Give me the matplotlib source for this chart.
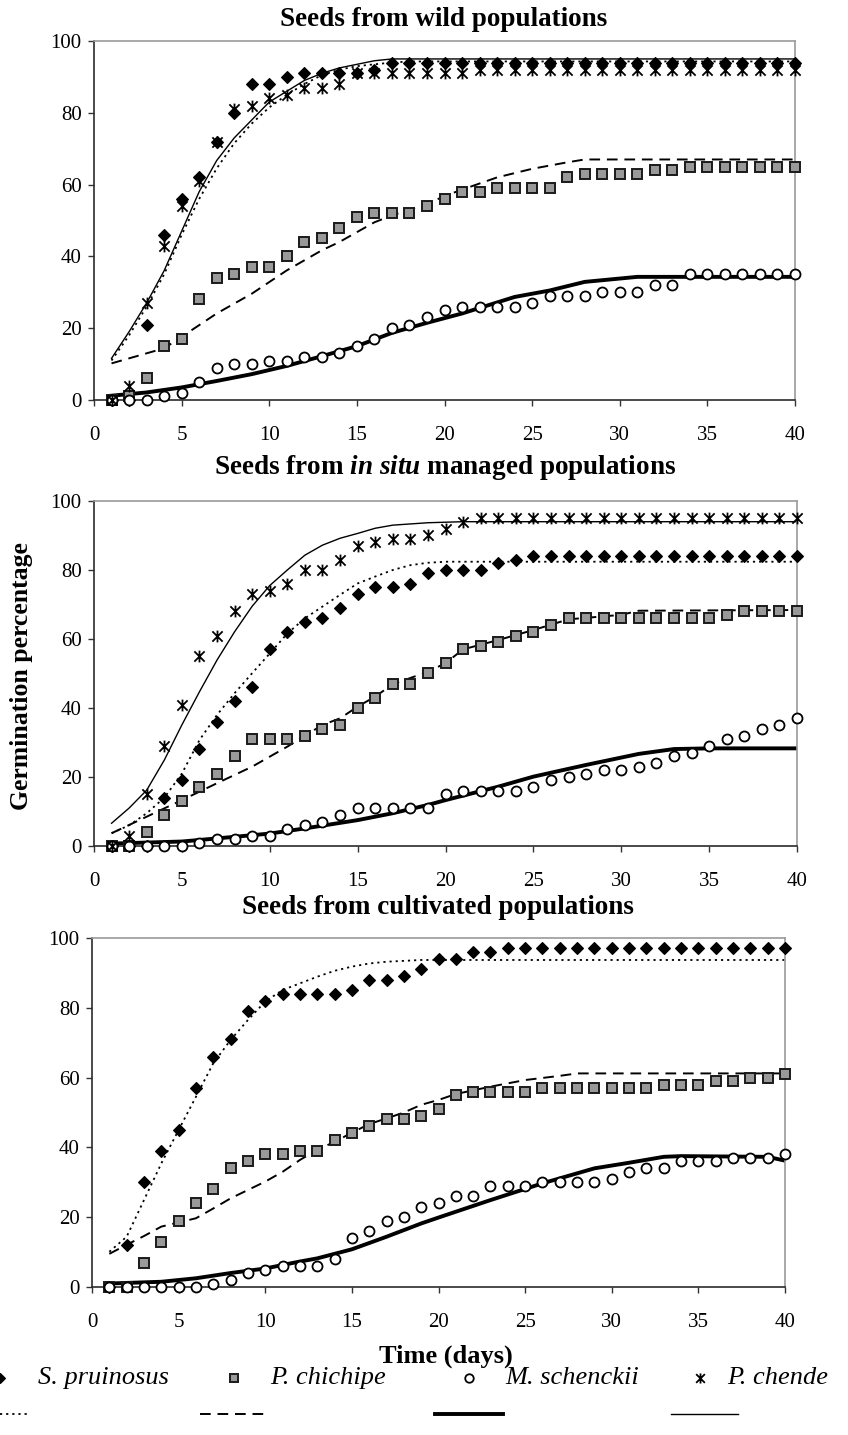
import matplotlib
matplotlib.use("Agg")
import matplotlib.pyplot as plt
from matplotlib.path import Path

plt.rcParams['font.family'] = ['Liberation Serif', 'DejaVu Serif']
plt.rcParams['mathtext.fontset'] = 'custom'
plt.rcParams['mathtext.rm'] = 'Liberation Serif:bold'
plt.rcParams['mathtext.bf'] = 'Liberation Serif:bold'
plt.rcParams['mathtext.it'] = 'Liberation Serif:italic:bold'

# ---------------- data ----------------
days = list(range(1, 41))
species = ["S. pruinosus", "P. chichipe", "M. schenckii", "P. chende"]
panel_titles = ["Seeds from wild populations",
                r"Seeds from $\mathit{in\ situ}$ managed populations",
                "Seeds from cultivated populations"]
x_ticks = [0, 5, 10, 15, 20, 25, 30, 35, 40]
y_ticks = [0, 20, 40, 60, 80, 100]

# wild populations: observed
wild_sp = [0, 0, 21, 46, 56, 62, 72, 80, 88, 88, 90, 91, 91, 91, 91, 92, 94] + [94] * 23
wild_pc = [0, 1, 6, 15, 17, 28, 34, 35, 37, 37, 40, 44, 45, 48, 51, 52, 52, 52, 54, 56,
           58, 58, 59, 59, 59, 59, 62, 63, 63, 63, 63, 64, 64] + [65] * 7
wild_ms = [0, 0, 0, 1, 2, 5, 9, 10, 10, 11, 11, 12, 12, 13, 15, 17, 20, 21, 23, 25,
           26, 26, 26, 26, 27, 29, 29, 29, 30, 30, 30, 32, 32] + [35] * 7
wild_pch = [0, 4, 27, 43, 54, 61, 72, 81, 82, 84, 85, 87, 87, 88, 91, 91, 91, 91, 91, 91, 91] + [92] * 19
# wild populations: fitted curves (vertex days / values)
wild_sp_fit_d = [1, 2, 3, 4, 5, 6, 7, 8, 9, 10, 11, 12, 13, 14, 15, 16, 17, 18, 40]
wild_sp_fit = [11, 18, 26, 35, 46, 56, 64.5, 71.5, 77, 81.5, 85, 88, 90.5, 92, 93, 93.5, 94, 94.3, 94.3]
wild_pc_fit_d = [1, 4, 5, 7, 9, 11, 13, 14, 16, 17, 19, 20, 21, 23, 25, 27, 28, 40]
wild_pc_fit = [10.2, 14.4, 17.6, 24.1, 29.6, 36.1, 41.7, 44, 49.5, 51.4, 54.6, 56.8, 58.6, 62, 64.4, 66.2, 67, 67]
wild_ms_fit_d = [1, 3, 5, 7, 9, 11, 13, 15, 17, 19, 21, 24, 26, 28, 31, 40]
wild_ms_fit = [1.2, 2.1, 3.5, 5.3, 7.2, 9.5, 12.2, 15, 18.7, 21.5, 24.1, 28.7, 30.5, 32.9, 34.3, 34.3]
wild_pch_fit_d = [1, 2, 3, 4, 5, 6, 7, 8, 9, 10, 11, 12, 13, 14, 15, 16, 17, 18, 40]
wild_pch_fit = [11.6, 19, 27, 36, 47, 58, 66.7, 73, 78, 83, 86, 89, 91, 92.5, 93.5, 94.5, 95, 95, 95]

# in situ managed populations: observed
insitu_sp = [0, 0, 0, 14, 19, 28, 36, 42, 46, 57, 62, 65, 66, 69, 73, 75, 75, 76, 79, 80,
             80, 80, 82, 83] + [84] * 16
insitu_pc = [0, 0, 4, 9, 13, 17, 21, 26, 31, 31, 31, 32, 34, 35, 40, 43, 47, 47, 50, 53,
             57, 58, 59, 61, 62, 64] + [66] * 9 + [67] + [68] * 4
insitu_ms = [0, 0, 0, 0, 0, 1, 2, 2, 3, 3, 5, 6, 7, 9, 11, 11, 11, 11, 11, 15,
             16, 16, 16, 16, 17, 19, 20, 21, 22, 22, 23, 24, 26, 27, 29, 31, 32, 34, 35, 37]
insitu_pch = [0, 3, 15, 29, 41, 55, 61, 68, 73, 74, 76, 80, 80, 83, 87, 88, 89, 89, 90, 92, 94] + [95] * 19
# in situ: fitted curves
insitu_sp_fit_d = [1, 2, 3, 4, 5, 6, 7, 8, 9, 10, 11, 12, 13, 14, 15, 16, 17, 18, 19, 20, 40]
insitu_sp_fit = [3.7, 6, 9.5, 14, 21, 30.7, 38, 44.3, 50.1, 55.8, 61.6, 66, 69.4, 72.8, 76.1, 78.1, 80, 81.4, 82.1, 82.4, 82.4]
insitu_pc_fit_d = [1, 3, 5, 7, 9, 11, 13, 14, 15, 16, 17, 19, 20, 21, 23, 25, 27, 30, 31, 40]
insitu_pc_fit = [3.7, 8.5, 13.3, 18.2, 23, 28.8, 35.1, 37, 40.4, 43.3, 46.9, 50.5, 53, 57, 59.7, 62.6, 65.7, 67, 68.2, 68.4]
insitu_ms_fit_d = [1, 5, 7, 10, 12, 15, 17, 19, 20, 23, 25, 28, 31, 33, 35, 40]
insitu_ms_fit = [0.7, 1.3, 2.2, 3.6, 5.1, 7.5, 9.5, 11.9, 13.3, 17.2, 20.1, 23.5, 26.7, 28.1, 28.3, 28.3]
insitu_pch_fit_d = [1, 2, 3, 4, 5, 6, 7, 8, 9, 10, 11, 12, 13, 14, 15, 16, 17, 19, 21, 40]
insitu_pch_fit = [6.6, 11, 16.2, 24.9, 35.1, 44.7, 53.9, 62.1, 69.5, 75.5, 80, 84.3, 87.2, 89.2, 90.6, 92.1, 93, 93.7, 94, 94]

# cultivated populations: observed
cult_sp = [0, 12, 30, 39, 45, 57, 66, 71, 79, 82, 84, 84, 84, 84, 85, 88, 88, 89, 91, 94,
           94, 96, 96] + [97] * 17
cult_pc = [0, 0, 7, 13, 19, 24, 28, 34, 36, 38, 38, 39, 39, 42, 44, 46, 48, 48, 49, 51,
           55, 56, 56, 56, 56] + [57] * 7 + [58] * 3 + [59, 59, 60, 60, 61]
cult_ms = [0, 0, 0, 0, 0, 0, 1, 2, 4, 5, 6, 6, 6, 8, 14, 16, 19, 20, 23, 24,
           26, 26, 29, 29, 29, 30, 30, 30, 30, 31, 33, 34, 34, 36, 36, 36, 37, 37, 37, 38]
# cultivated: fitted curves
cult_sp_fit_d = [1, 2, 3, 4, 5, 6, 7, 8, 9, 10, 11, 12, 13, 14, 15, 16, 17, 19, 40]
cult_sp_fit = [10.1, 14.4, 24.9, 35.4, 45, 54.5, 64.1, 70.8, 76.5, 81.8, 85.1, 87, 88.9, 90.6, 91.8, 92.7, 93.2, 93.7, 93.7]
cult_pc_fit_d = [1, 2, 3, 4, 6, 7, 8, 9, 10, 11, 12, 13, 14, 15, 16, 17, 18, 19, 20, 21, 23, 25, 27, 28, 40]
cult_pc_fit = [9.5, 12.1, 14.6, 17.3, 19.7, 22.5, 25.4, 27.8, 30.2, 33, 36.4, 39.3, 41.6, 44.2, 46.7, 48.3, 50,
               52.2, 53.6, 55.3, 57.4, 59.3, 60.5, 61.2, 61.2]
cult_ms_fit_d = [1, 4, 6, 8, 10, 12, 13, 15, 17, 19, 20, 23, 26, 29, 31, 33, 34, 39, 40]
cult_ms_fit = [1.0, 1.5, 2.5, 4.0, 5.3, 7.3, 8.2, 10.8, 14.4, 18.2, 19.9, 24.9, 29.7, 34, 35.6, 37.3, 37.5, 37.3, 36.2]

# ---------------- styles ----------------
W, H = 848, 1435
star = Path([(-1, -1), (1, 1), (-1, 1), (1, -1), (0, -1.15), (0, 1.15)],
            [Path.MOVETO, Path.LINETO] * 3)
mk = {
    "S. pruinosus": dict(marker='D', ms=6.3, mfc='black', mec='black', mew=0.8),
    "P. chichipe": dict(marker='s', ms=7.2, mfc='#999999', mec='#1a1a1a', mew=1.4),
    "M. schenckii": dict(marker='o', ms=7.2, mfc='white', mec='black', mew=1.3),
    "P. chende": dict(marker=star, ms=8.5, mfc='none', mec='black', mew=1.3),
}
ln = {
    "S. pruinosus": dict(color='black', lw=1.3, ls=(0, (1.2, 2.2))),
    "P. chichipe": dict(color='black', lw=1.4, ls=(0, (5.5, 3.5))),
    "M. schenckii": dict(color='black', lw=2.8, ls='-'),
    "P. chende": dict(color='black', lw=1.0, ls='-'),
}

fig = plt.figure(figsize=(W / 100, H / 100), dpi=100)


def px_axes(l, r, t, b):
    return fig.add_axes([l / W, 1 - b / H, (r - l) / W, (b - t) / H])


panels = [
    dict(rect=(94, 795, 41, 400), title_xy=(444, 19),
         obs=[wild_sp, wild_pc, wild_ms, wild_pch],
         fit=[(wild_sp_fit_d, wild_sp_fit), (wild_pc_fit_d, wild_pc_fit),
              (wild_ms_fit_d, wild_ms_fit), (wild_pch_fit_d, wild_pch_fit)]),
    dict(rect=(94, 797, 501, 846), title_xy=(445, 467),
         obs=[insitu_sp, insitu_pc, insitu_ms, insitu_pch],
         fit=[(insitu_sp_fit_d, insitu_sp_fit), (insitu_pc_fit_d, insitu_pc_fit),
              (insitu_ms_fit_d, insitu_ms_fit), (insitu_pch_fit_d, insitu_pch_fit)]),
    dict(rect=(92, 785, 938, 1287), title_xy=(438, 908),
         obs=[cult_sp, cult_pc, cult_ms, None],
         fit=[(cult_sp_fit_d, cult_sp_fit), (cult_pc_fit_d, cult_pc_fit),
              (cult_ms_fit_d, cult_ms_fit), None]),
]

for i, p in enumerate(panels):
    ax = px_axes(*p["rect"])
    for j, sp in enumerate(species):
        if p["obs"][j] is None:
            continue
        fd, fv = p["fit"][j]
        ax.plot(fd, fv, zorder=2 + j * 0.1, **ln[sp])
        ax.plot(days, p["obs"][j], ls='none', zorder=3 + j * 0.1, clip_on=False, **mk[sp])
    ax.set_xlim(0, 40)
    ax.set_ylim(0, 100)
    ax.set_xticks(x_ticks)
    ax.set_yticks(y_ticks)
    ax.tick_params(axis='x', direction='out', length=4, width=1.0, pad=15,
                   labelsize=15, color='#333333')
    ax.tick_params(axis='y', direction='out', length=4, width=1.0, pad=5,
                   labelsize=15, color='#333333')
    for s in ['left', 'bottom']:
        ax.spines[s].set_color('#2b2b2b')
        ax.spines[s].set_linewidth(1.2)
    for s in ['top', 'right']:
        ax.spines[s].set_color('#9a9a9a')
        ax.spines[s].set_linewidth(1.2)
    tx, ty = p["title_xy"]
    fig.text(tx / W, 1 - ty / H, panel_titles[i], ha='center', va='center',
             fontsize=19.5, fontweight='bold')

fig.text(22 / W, 1 - 676 / H, "Germination percentage", rotation=90,
         ha='center', va='center', fontsize=18.5, fontweight='bold')
fig.text(446 / W, 1 - 1356 / H, "Time (days)", ha='center', va='center',
         fontsize=19, fontweight='bold')

# ---------------- legend (markers above, line keys below) ----------------
lg = fig.add_axes([0, 0, 1, 1], zorder=-1)
lg.set_xlim(0, W)
lg.set_ylim(H, 0)
lg.axis('off')
leg_marker_x = [0, 234, 469, 700]
leg_text_x = [38, 270, 505, 727]
leg_line_x = [(0, 30), (200, 265), (435, 503), (671, 738)]
leg_text_y, leg_line_y = 1378, 1414
for j, sp in enumerate(species):
    m = dict(mk[sp])
    m['ms'] = m['ms'] * 0.85
    lg.plot([leg_marker_x[j]], [leg_text_y], ls='none', clip_on=False, **m)
    lg.text(leg_text_x[j], leg_text_y, sp, ha='left', va='center',
            fontsize=19, fontstyle='italic')
    x0, x1 = leg_line_x[j]
    lg.plot([x0, x1], [leg_line_y, leg_line_y], clip_on=False, **ln[sp])

fig.savefig("out.png", dpi=100)
